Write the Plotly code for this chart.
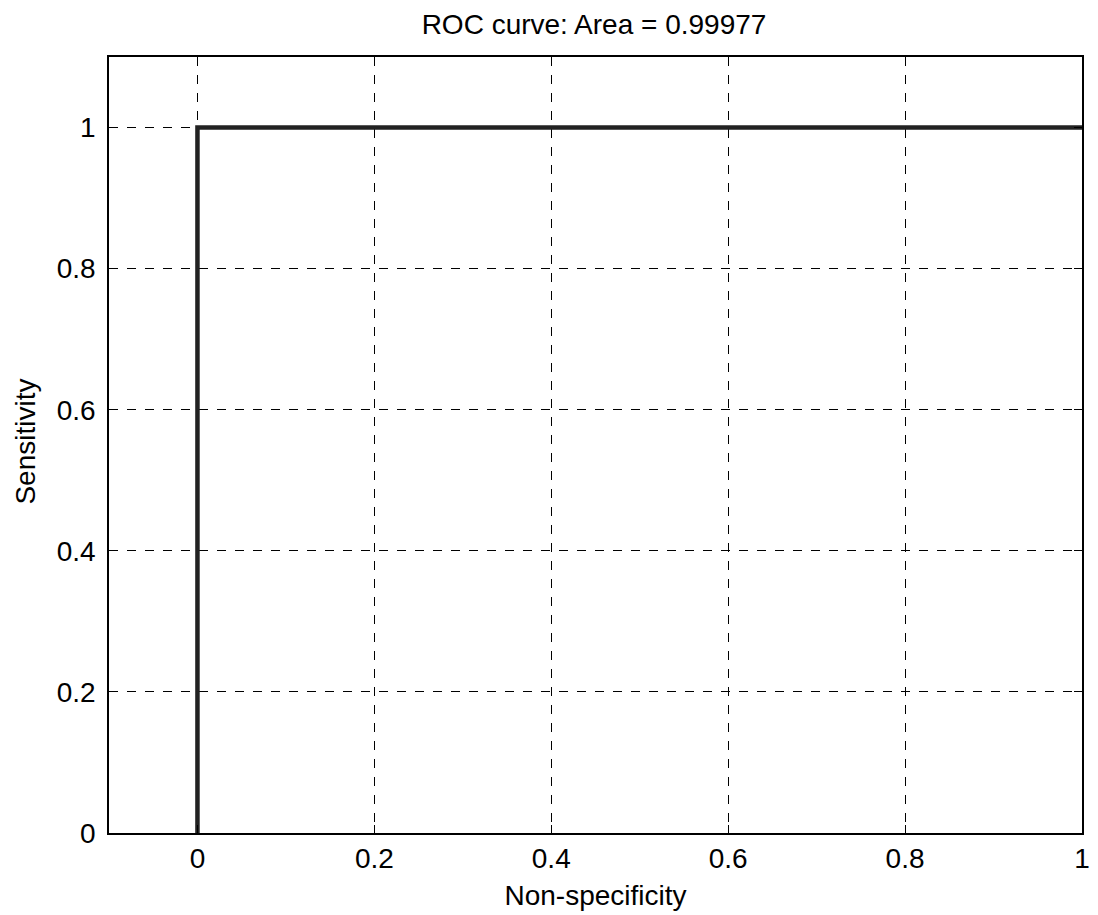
import plotly.graph_objects as go

fpr = [0.0, 0.0, 1.0]
tpr = [0.0, 1.0, 1.0]
title_text = "ROC curve: Area = 0.99977"
x_ticks = [0, 0.2, 0.4, 0.6, 0.8, 1]
x_tick_labels = ["0", "0.2", "0.4", "0.6", "0.8", "1"]
y_ticks = [0, 0.2, 0.4, 0.6, 0.8, 1]
y_tick_labels = ["0", "0.2", "0.4", "0.6", "0.8", "1"]

fig = go.Figure()
fig.add_trace(go.Scatter(x=fpr, y=tpr, mode="lines",
                         line=dict(color="#222222", width=4.5), showlegend=False))

font = "Liberation Sans, Arial, sans-serif"
axis_common = dict(showgrid=True, gridcolor="black", griddash="dash", gridwidth=1,
                   showline=True, linecolor="black", linewidth=1.5, mirror="ticks",
                   ticks="inside", ticklen=8, tickcolor="black", zeroline=False,
                   tickfont=dict(family=font, size=28, color="black"))

fig.update_layout(
    width=1098, height=915,
    margin=dict(l=109, r=8, t=57, b=82),
    paper_bgcolor="white", plot_bgcolor="white",
    title=dict(text=title_text, x=0.541, xanchor="center", y=0.974, yanchor="middle",
               font=dict(family=font, size=28, color="black")),
    xaxis=dict(range=[-0.1, 1], tickvals=x_ticks, ticktext=x_tick_labels,
               title=dict(text="Non-specificity", font=dict(family=font, size=28, color="black"), standoff=12),
               **axis_common),
    yaxis=dict(range=[0, 1.1], tickvals=y_ticks, ticktext=y_tick_labels,
               ticklabelstandoff=6, **axis_common),
    annotations=[dict(text="Sensitivity", textangle=-90, xref="paper", yref="paper",
                      x=-0.0856, y=0.504, xanchor="center", yanchor="middle",
                      showarrow=False, font=dict(family=font, size=28, color="black"))],
)
fig.write_html("out.html")
